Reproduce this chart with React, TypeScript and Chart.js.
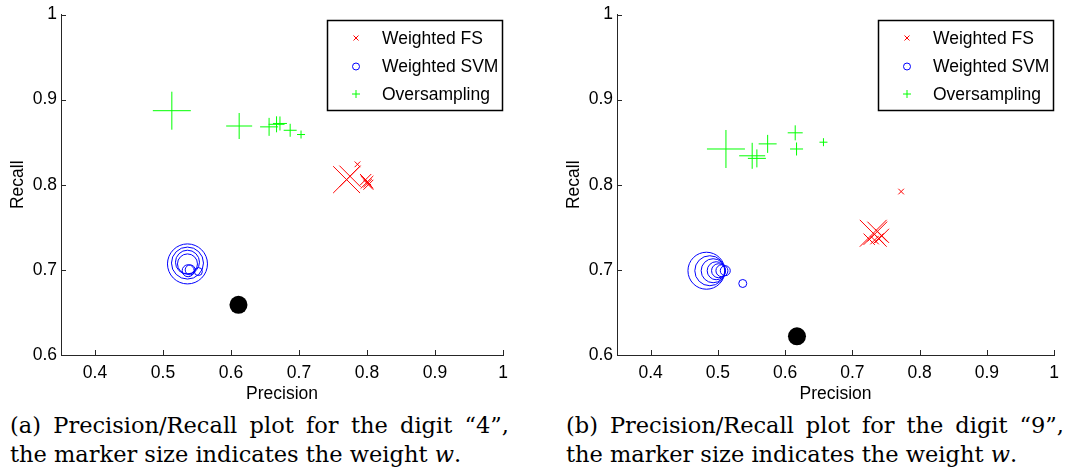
import React, { useEffect, useRef } from "react";
import { Chart, registerables } from "chart.js";

Chart.register(...registerables);

// ---------- data ----------
const xTickValues = [0.4, 0.5, 0.6, 0.7, 0.8, 0.9, 1];
const yTickValues = [0.6, 0.7, 0.8, 0.9, 1];
const seriesNames = ["Weighted FS", "Weighted SVM", "Oversampling"];
const xTitle = "Precision";
const yTitle = "Recall";

// digit "4"
const fs4Precision = [0.770, 0.775, 0.800, 0.798, 0.802, 0.801, 0.786];
const fs4Recall = [0.806, 0.810, 0.803, 0.806, 0.800, 0.802, 0.824];
const fs4Weight = [19, 15, 9, 8, 7, 6, 4];

const svm4Precision = [0.536, 0.536, 0.536, 0.536, 0.537, 0.540, 0.552];
const svm4Recall = [0.707, 0.708, 0.709, 0.707, 0.699, 0.700, 0.698];
const svm4Weight = [20, 16, 12, 10, 6, 5, 4];

const ov4Precision = [0.513, 0.612, 0.656, 0.667, 0.672, 0.687, 0.703];
const ov4Recall = [0.887, 0.869, 0.868, 0.871, 0.872, 0.864, 0.859];
const ov4Weight = [19, 13, 9, 8, 7, 6.5, 4];

const base4 = { precision: 0.611, recall: 0.659 };

// digit "9"
const fs9Precision = [0.731, 0.737, 0.744, 0.725, 0.739, 0.733, 0.7725];
const fs9Recall = [0.743, 0.745, 0.740, 0.736, 0.737, 0.735, 0.792];
const fs9Weight = [19, 14, 10, 8, 7, 6, 4];

const svm9Precision = [0.483, 0.488, 0.493, 0.4975, 0.501, 0.506, 0.511, 0.537];
const svm9Recall = [0.699, 0.699, 0.699, 0.699, 0.699, 0.699, 0.699, 0.684];
const svm9Weight = [18.5, 15, 12, 9, 7, 6, 5, 4];

const ov9Precision = [0.512, 0.551, 0.558, 0.574, 0.615, 0.617, 0.657];
const ov9Recall = [0.842, 0.834, 0.831, 0.848, 0.861, 0.842, 0.850];
const ov9Weight = [19, 13, 9, 9, 7.5, 6.5, 4];

const base9 = { precision: 0.6176, recall: 0.622 };

const captionA1 = "(a) Precision/Recall plot for the digit \u201C4\u201D,";
const captionB1 = "(b) Precision/Recall plot for the digit \u201C9\u201D,";
const caption2 = "the marker size indicates the weight ";

// ---------- styles ----------
const RED = "#ff0000";
const BLUE = "#0000ff";
const GREEN = "#00ff00";
const FONT = "'Liberation Sans', Arial, sans-serif";
const FONT_SIZE = 17.5;

const toPoints = (xs: number[], ys: number[]) => xs.map((x, i) => ({ x, y: ys[i] }));

const inwardTicks = {
  id: "inwardTicks",
  afterDraw(chart: any) {
    const { ctx, chartArea, scales } = chart;
    ctx.save();
    ctx.strokeStyle = "#262626";
    ctx.lineWidth = 1;
    ctx.beginPath();
    xTickValues.forEach((v) => {
      const px = Math.round(scales.x.getPixelForValue(v)) + 0.5;
      ctx.moveTo(px, chartArea.bottom);
      ctx.lineTo(px, chartArea.bottom - 5);
    });
    yTickValues.forEach((v) => {
      const py = Math.round(scales.y.getPixelForValue(v)) + 0.5;
      ctx.moveTo(chartArea.left, py);
      ctx.lineTo(chartArea.left + 5, py);
    });
    ctx.stroke();
    ctx.restore();
  },
};

const boxLegend = {
  id: "boxLegend",
  afterDatasetsDraw(chart: any) {
    const { ctx, chartArea } = chart;
    const right = Math.round(chartArea.right) - 1;
    const left = right - 175;
    const top = Math.round(chartArea.top) + 5;
    const h = 90;
    ctx.save();
    ctx.fillStyle = "#ffffff";
    ctx.fillRect(left, top, right - left, h);
    ctx.strokeStyle = "#000000";
    ctx.lineWidth = 1.5;
    ctx.strokeRect(left + 0.5, top + 0.5, right - left, h);
    const rows = [top + 18, top + 46.5, top + 74];
    const mx = left + 29;
    ctx.lineWidth = 1;
    // x marker
    ctx.strokeStyle = RED;
    ctx.beginPath();
    ctx.moveTo(mx - 2.5, rows[0] - 2.5);
    ctx.lineTo(mx + 2.5, rows[0] + 2.5);
    ctx.moveTo(mx + 2.5, rows[0] - 2.5);
    ctx.lineTo(mx - 2.5, rows[0] + 2.5);
    ctx.stroke();
    // o marker
    ctx.strokeStyle = BLUE;
    ctx.beginPath();
    ctx.arc(mx, rows[1], 3.5, 0, Math.PI * 2);
    ctx.stroke();
    // + marker
    ctx.strokeStyle = GREEN;
    ctx.beginPath();
    ctx.moveTo(mx - 4, rows[2]);
    ctx.lineTo(mx + 4, rows[2]);
    ctx.moveTo(mx, rows[2] - 4);
    ctx.lineTo(mx, rows[2] + 4);
    ctx.stroke();
    ctx.fillStyle = "#000000";
    ctx.font = `${FONT_SIZE}px ${FONT}`;
    ctx.textBaseline = "middle";
    ctx.textAlign = "left";
    seriesNames.forEach((name, i) => ctx.fillText(name, left + 55, rows[i] + 1));
    ctx.restore();
  },
};

type PanelProps = {
  left: number;
  width: number;
  rightPad: number;
  fsP: number[]; fsR: number[]; fsW: number[];
  svmP: number[]; svmR: number[]; svmW: number[];
  ovP: number[]; ovR: number[]; ovW: number[];
  base: { precision: number; recall: number };
};

function Panel(p: PanelProps) {
  const ref = useRef<HTMLCanvasElement | null>(null);
  const height = 405;
  useEffect(() => {
    if (!ref.current) return;
    const tickFont = { family: FONT, size: FONT_SIZE };
    const chart = new Chart(ref.current, {
      type: "scatter",
      data: {
        datasets: [
          {
            label: seriesNames[0],
            data: toPoints(p.fsP, p.fsR),
            pointStyle: "crossRot",
            pointRadius: p.fsW,
            borderColor: RED,
            backgroundColor: RED,
            pointBorderWidth: 1,
          },
          {
            label: seriesNames[1],
            data: toPoints(p.svmP, p.svmR),
            pointStyle: "circle",
            pointRadius: p.svmW,
            borderColor: BLUE,
            backgroundColor: "rgba(0,0,0,0)",
            pointBorderWidth: 1,
          },
          {
            label: seriesNames[2],
            data: toPoints(p.ovP, p.ovR),
            pointStyle: "cross",
            pointRadius: p.ovW,
            borderColor: GREEN,
            backgroundColor: GREEN,
            pointBorderWidth: 1,
          },
          {
            label: "baseline",
            data: [{ x: p.base.precision, y: p.base.recall }],
            pointStyle: "circle",
            pointRadius: 9,
            borderColor: "#000000",
            backgroundColor: "#000000",
            pointBorderWidth: 0,
          },
        ],
      },
      options: {
        animation: false,
        responsive: false,
        devicePixelRatio: 1,
        events: [],
        layout: {
          autoPadding: false,
          padding: { left: 0, right: p.rightPad, top: 11, bottom: 0 },
        },
        plugins: { legend: { display: false }, tooltip: { enabled: false } },
        scales: {
          x: {
            type: "linear",
            min: 0.35,
            max: 1,
            afterBuildTicks: (scale: any) => {
              scale.ticks = xTickValues.map((v) => ({ value: v }));
            },
            afterFit: (scale: any) => {
              scale.height = 50;
            },
            ticks: {
              font: tickFont,
              color: "#000",
              padding: 8,
              maxRotation: 0,
              autoSkip: false,
              callback: (v: any) => String(Number(Number(v).toFixed(2))),
            },
            grid: { display: true, drawOnChartArea: false, drawTicks: false },
            border: { display: true, color: "#262626", width: 1 },
            title: { display: true, text: xTitle, font: tickFont, color: "#000", padding: { top: 0, bottom: 0 } },
          },
          y: {
            type: "linear",
            min: 0.6,
            max: 1,
            afterBuildTicks: (scale: any) => {
              scale.ticks = yTickValues.map((v) => ({ value: v }));
            },
            afterFit: (scale: any) => {
              scale.width = 61;
            },
            ticks: {
              font: tickFont,
              color: "#000",
              padding: 4,
              autoSkip: false,
              callback: (v: any) => String(Number(Number(v).toFixed(2))),
            },
            grid: { display: true, drawOnChartArea: false, drawTicks: false },
            border: { display: true, color: "#262626", width: 1 },
            title: { display: true, text: yTitle, font: tickFont, color: "#000", padding: { top: 8, bottom: 0 } },
          },
        },
      },
      plugins: [inwardTicks, boxLegend],
    } as any);
    return () => chart.destroy();
  }, []);
  return (
    <canvas
      ref={ref}
      width={p.width}
      height={height}
      style={{ position: "absolute", left: p.left, top: 0, width: p.width, height }}
    />
  );
}

const captionStyle: React.CSSProperties = {
  position: "absolute",
  top: 411,
  fontFamily: "'DejaVu Serif', 'Liberation Serif', serif",
  fontSize: 22.5,
  lineHeight: "29px",
  color: "#000",
  whiteSpace: "nowrap",
};

const justified = (w: number): React.CSSProperties => ({
  width: w,
  whiteSpace: "normal",
  textAlign: "justify",
  textAlignLast: "justify",
});

export default function App() {
  return (
    <div
      style={{
        position: "absolute",
        left: 0,
        top: 0,
        width: 1067,
        height: 473,
        overflow: "hidden",
        background: "#fff",
      }}
    >
      <Panel
        left={0}
        width={540}
        rightPad={37}
        fsP={fs4Precision} fsR={fs4Recall} fsW={fs4Weight}
        svmP={svm4Precision} svmR={svm4Recall} svmW={svm4Weight}
        ovP={ov4Precision} ovR={ov4Recall} ovW={ov4Weight}
        base={base4}
      />
      <Panel
        left={556}
        width={511}
        rightPad={8}
        fsP={fs9Precision} fsR={fs9Recall} fsW={fs9Weight}
        svmP={svm9Precision} svmR={svm9Recall} svmW={svm9Weight}
        ovP={ov9Precision} ovR={ov9Recall} ovW={ov9Weight}
        base={base9}
      />
      <div style={{ ...captionStyle, left: 10 }}>
        <div style={justified(499)}>{captionA1}</div>
        <div>
          {caption2}
          <i>w</i>.
        </div>
      </div>
      <div style={{ ...captionStyle, left: 566 }}>
        <div style={justified(498)}>{captionB1}</div>
        <div>
          {caption2}
          <i>w</i>.
        </div>
      </div>
    </div>
  );
}
